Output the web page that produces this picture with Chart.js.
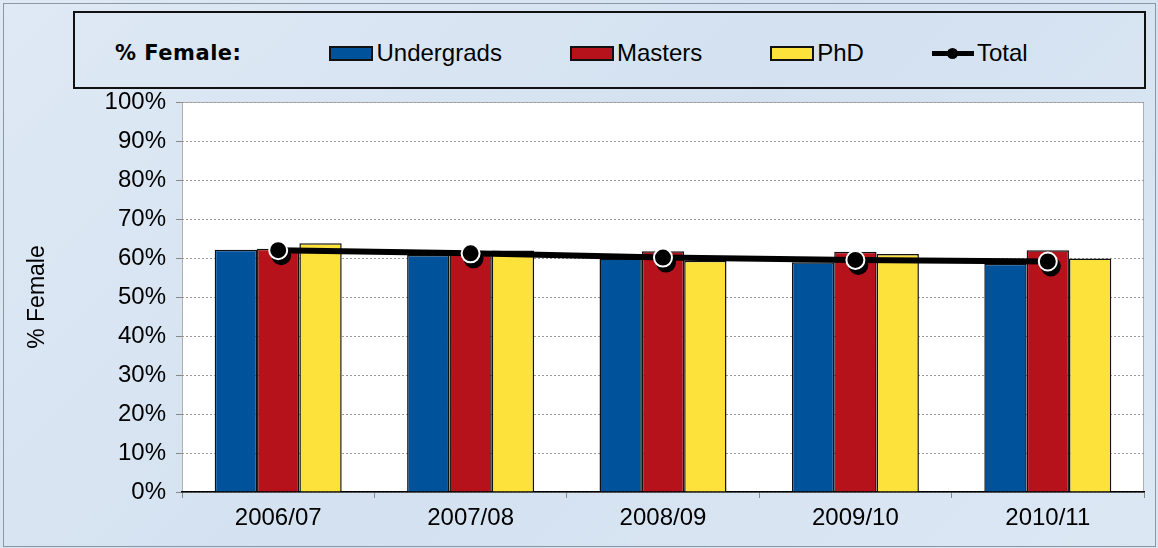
<!DOCTYPE html>
<html>
<head>
<meta charset="utf-8">
<script src="https://cdn.jsdelivr.net/npm/chart.js@4.4.0/dist/chart.umd.min.js"></script>
<style>
  body { margin: 0; background: #d9e5f2; font-family: "Liberation Sans", Arial, sans-serif; }
  #wrap { position: relative; width: 1158px; height: 548px; overflow: hidden;
          background: linear-gradient(135deg, #dfe9f5 0%, #d3e1f0 50%, #dce7f4 100%); }
  #frame { position: absolute; left: 3px; top: 3px; width: 1151px; height: 542px; border: 1px solid #8a98a6; }
  #legend { position: absolute; left: 73px; top: 11px; width: 1073px; height: 78px;
            border: 2px solid #111; display: flex; align-items: center; padding: 6px 0 0 40px; box-sizing: border-box; }
  #legend .title { font-family: "DejaVu Sans", Verdana, sans-serif; font-weight: bold; font-size: 21px;
                   letter-spacing: 0.5px; margin-right: 88px; }
  #legend .item { display: flex; align-items: center; font-size: 24px; margin-right: 68px; }
  #legend .sw { width: 40px; height: 11px; border: 2px solid #111; margin-right: 3px; }
  #legend .ln { position: relative; width: 42px; height: 5px; background: #000; margin-right: 3px; }
  #legend .ln i { position: absolute; left: 15px; top: -3px; width: 11px; height: 11px; border-radius: 50%; background: #000; }
  canvas { position: absolute; left: 0; top: 0; }
</style>
</head>
<body>
<div id="wrap">
  <div id="frame"></div>
  <div id="legend"></div>
  <canvas id="chart" width="1158" height="548"></canvas>
</div>
<script>
// dados
const categories = ['2006/07', '2007/08', '2008/09', '2009/10', '2010/11'];
const seriesNames = ['Undergrads', 'Masters', 'PhD', 'Total'];
const undergrads = [62.1, 60.8, 59.9, 58.9, 58.5];
const masters = [62.4, 61.0, 61.7, 61.6, 62.0];
const phd = [63.8, 61.9, 59.3, 61.0, 59.9];
const total = [62.0, 61.2, 60.1, 59.5, 59.1];
const yTickValues = [0, 10, 20, 30, 40, 50, 60, 70, 80, 90, 100];

const colors = ['#00529b', '#b5121b', '#fde23c', '#000000'];

// legenda em HTML, dentro da caixa
const legend = document.getElementById('legend');
legend.innerHTML = '<span class="title">% Female:</span>' + seriesNames.map((name, i) => {
    const icon = i < 3
        ? '<span class="sw" style="background:' + colors[i] + '"></span>'
        : '<span class="ln"><i></i></span>';
    return '<span class="item">' + icon + name + '</span>';
}).join('');

// fundo branco da área do gráfico
const plotBg = {
    id: 'plotBg',
    beforeDraw(chart) {
        const { ctx, chartArea: a } = chart;
        ctx.save();
        ctx.fillStyle = '#ffffff';
        ctx.fillRect(a.left, a.top, a.right - a.left, a.bottom - a.top);
        ctx.strokeStyle = '#b0b0b0';
        ctx.lineWidth = 1;
        ctx.strokeRect(a.left + 0.5, a.top + 0.5, a.right - a.left - 1, a.bottom - a.top);
        ctx.restore();
    }
};

// sombra só nos marcadores do total
const pointShadow = {
    id: 'pointShadow',
    beforeDatasetDraw(chart, args) {
        if (!chart.data.datasets[args.index].shadow) return;
        const ctx = chart.ctx;
        ctx.save();
        ctx.shadowColor = 'rgba(0,0,0,1)';
        ctx.shadowOffsetX = 3;
        ctx.shadowOffsetY = 5;
        ctx.shadowBlur = 0;
    },
    afterDatasetDraw(chart, args) {
        if (!chart.data.datasets[args.index].shadow) return;
        chart.ctx.restore();
    }
};

const fontFamily = '"Liberation Sans", Arial, sans-serif';

new Chart(document.getElementById('chart').getContext('2d'), {
    data: {
        labels: categories,
        datasets: [
            {   // marcadores
                type: 'line', label: seriesNames[3], data: total, order: 0, shadow: true,
                showLine: false,
                pointRadius: 9, pointBackgroundColor: '#000',
                pointBorderColor: '#fff', pointBorderWidth: 2
            },
            {   // linha
                type: 'line', label: seriesNames[3], data: total, order: 1,
                borderColor: '#000', borderWidth: 6, tension: 0, pointRadius: 0
            },
            { type: 'bar', label: seriesNames[0], data: undergrads, order: 2,
              backgroundColor: colors[0], borderColor: '#111', borderWidth: 1.5 },
            { type: 'bar', label: seriesNames[1], data: masters, order: 2,
              backgroundColor: colors[1], borderColor: '#111', borderWidth: 1.5 },
            { type: 'bar', label: seriesNames[2], data: phd, order: 2,
              backgroundColor: colors[2], borderColor: '#111', borderWidth: 1.5 }
        ]
    },
    options: {
        responsive: false,
        animation: false,
        datasets: { bar: { barPercentage: 1, categoryPercentage: 0.66 } },
        layout: { padding: { top: 102, right: 14, left: 0, bottom: 0 } },
        plugins: { legend: { display: false }, tooltip: { enabled: false } },
        scales: {
            x: {
                afterFit(scale) { scale.height = 56; },
                ticks: { color: '#000', font: { family: fontFamily, size: 24 }, padding: 6 },
                grid: { offset: true, drawOnChartArea: false, drawTicks: true, tickLength: 6, color: '#888' },
                border: { color: '#000', width: 1.5 }
            },
            y: {
                min: 0, max: 100,
                afterFit(scale) { scale.width = 182; },
                afterBuildTicks(scale) { scale.ticks = yTickValues.map(v => ({ value: v })); },
                ticks: {
                    color: '#000', font: { family: fontFamily, size: 24 }, padding: 10,
                    callback: v => v + '%'
                },
                grid: { color: '#9a9a9a', tickLength: 6, tickColor: '#888' },
                border: { display: false, dash: [2, 2] },
                title: {
                    display: true, text: '% Female', color: '#000',
                    font: { family: fontFamily, size: 23 }, padding: { top: 24, bottom: 0 }
                }
            }
        }
    },
    plugins: [plotBg, pointShadow]
});
</script>
</body>
</html>
